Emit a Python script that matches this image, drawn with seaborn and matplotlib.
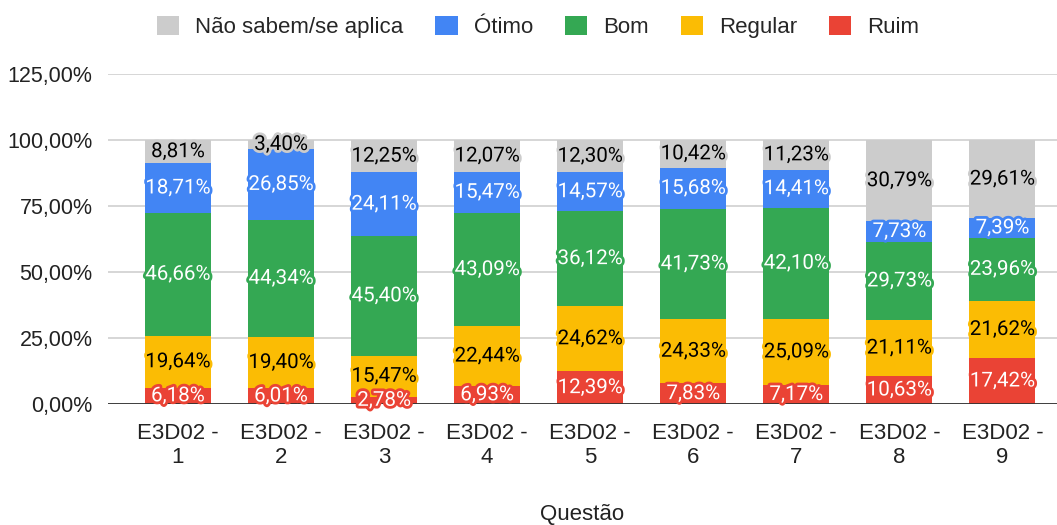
import matplotlib
matplotlib.use('Agg')
import matplotlib.pyplot as plt
import matplotlib.patheffects as pe
from matplotlib.patches import Patch
import numpy as np
import pandas as pd
import seaborn as sns

# Data
questoes = ['E3D02 -\n1', 'E3D02 -\n2', 'E3D02 -\n3', 'E3D02 -\n4', 'E3D02 -\n5',
            'E3D02 -\n6', 'E3D02 -\n7', 'E3D02 -\n8', 'E3D02 -\n9']
ruim = [6.18, 6.01, 2.78, 6.93, 12.39, 7.83, 7.17, 10.63, 17.42]
regular = [19.64, 19.40, 15.47, 22.44, 24.62, 24.33, 25.09, 21.11, 21.62]
bom = [46.66, 44.34, 45.40, 43.09, 36.12, 41.73, 42.10, 29.73, 23.96]
otimo = [18.71, 26.85, 24.11, 15.47, 14.57, 15.68, 14.41, 7.73, 7.39]
nao_sabem = [8.81, 3.40, 12.25, 12.07, 12.30, 10.42, 11.23, 30.79, 29.61]

series = ['Ruim', 'Regular', 'Bom', 'Ótimo', 'Não sabem/se aplica']
values = [ruim, regular, bom, otimo, nao_sabem]
colors = ['#ea4335', '#fbbc04', '#34a853', '#4285f4', '#cccccc']
text_colors = ['white', 'black', 'white', 'white', 'black']

df = pd.DataFrame({'questao': questoes})
for name, vals in zip(series, values):
    df[name] = vals
cum = df[series].cumsum(axis=1)

sns.set_style('white')
plt.rcParams['font.family'] = ['Liberation Sans', 'DejaVu Sans']

fig = plt.figure(figsize=(10.57, 5.25), dpi=100)
ax = fig.add_axes([0.102, 0.2305, 0.898, 0.6285])

# stacked bars: draw cumulative totals from tallest to shortest
for i in range(len(series) - 1, -1, -1):
    sns.barplot(x='questao', y=series[i], data=df.assign(**{series[i]: cum[series[i]]}),
                color=colors[i], width=0.64, saturation=1, linewidth=0,
                edgecolor='none', ax=ax, zorder=2)

# data labels centred in each segment
for i, name in enumerate(series):
    bottoms = cum[name] - df[name]
    for j, v in enumerate(df[name]):
        y = bottoms[j] + v / 2
        ax.text(j, y, f'{v:.2f}%'.replace('.', ','), ha='center', va='center',
                fontsize=14.8, color=text_colors[i], zorder=5, family=['Roboto', 'DejaVu Sans'],
                path_effects=[pe.withStroke(linewidth=4, foreground=colors[i])])

ax.set_ylim(0, 125)
ax.set_xlim(-0.68, 8.53)
ax.set_yticks([0, 25, 50, 75, 100, 125])
ax.set_yticklabels(['0,00%', '25,00%', '50,00%', '75,00%', '100,00%', '125,00%'])
ax.yaxis.grid(True, color='#d0d0d0', linewidth=1.2, zorder=0)
ax.set_axisbelow(True)
ax.axhline(0, color='#333333', linewidth=1.3, zorder=3)
for s in ax.spines.values():
    s.set_visible(False)
ax.tick_params(axis='both', length=0, colors='#222222')
ax.tick_params(axis='y', pad=11, labelsize=15.5)
ax.tick_params(axis='x', pad=14, labelsize=16)
for t in ax.get_xticklabels():
    t.set_linespacing(1.15)
ax.set_ylabel('')
ax.set_xlabel('Questão', fontsize=16, color='#222222', labelpad=26)

handles = [Patch(facecolor=colors[i], edgecolor='none') for i in range(len(series) - 1, -1, -1)]
labels = [series[i] for i in range(len(series) - 1, -1, -1)]
fig.legend(handles, labels, loc='upper center', bbox_to_anchor=(0.509, 1.0), ncol=5,
           frameon=False, fontsize=16, handlelength=1.0, handleheight=1.0,
           handletextpad=0.72, columnspacing=1.44, borderaxespad=0.3)

fig.savefig('out.png', dpi=100)
